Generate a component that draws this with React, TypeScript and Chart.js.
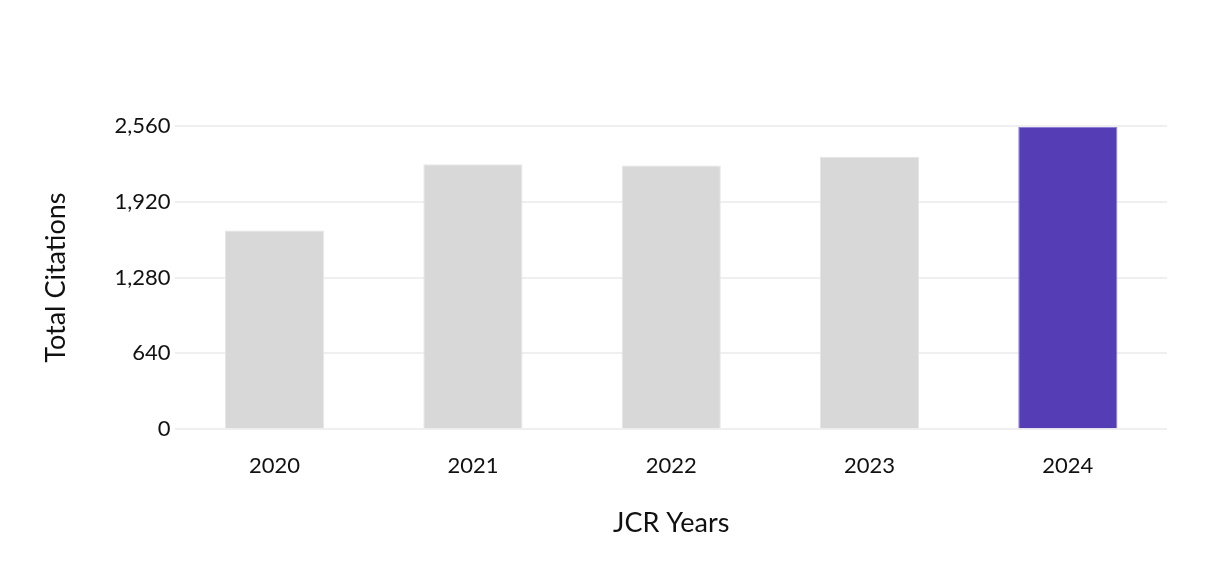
import React, { useEffect, useRef } from "react";
import { Chart, registerables } from "chart.js";

Chart.register(...registerables);

const categories = ["2020", "2021", "2022", "2023", "2024"];
const citations = [1678, 2238, 2227, 2300, 2552];
const barColors = ["#d8d8d8", "#d8d8d8", "#d8d8d8", "#d8d8d8", "#553db6"];
const barBorders = ["#e6e6e6", "#e6e6e6", "#e6e6e6", "#e6e6e6", "#8f7fd6"];
const yTicks = [0, 640, 1280, 1920, 2560];

const FONT = "Lato, 'Noto Sans', sans-serif";

export default function App() {
  const ref = useRef<HTMLCanvasElement | null>(null);

  useEffect(() => {
    document.body.style.margin = "0";
    if (!ref.current) return;
    const chart = new Chart(ref.current, {
      type: "bar",
      data: {
        labels: categories,
        datasets: [
          {
            label: "Total Citations",
            data: citations,
            backgroundColor: barColors,
            borderColor: barBorders,
            borderWidth: 1,
            barPercentage: 0.5,
            categoryPercentage: 1,
          },
        ],
      },
      options: {
        responsive: false,
        animation: false,
        maintainAspectRatio: false,
        layout: { padding: { top: 126, right: 47, left: 40, bottom: 33 } },
        plugins: {
          legend: { display: false },
          tooltip: { enabled: false },
        },
        scales: {
          x: {
            grid: { display: false },
            border: { display: false },
            ticks: {
              color: "#111",
              font: { family: FONT, size: 22 },
              padding: 16,
            },
            title: {
              display: true,
              text: "JCR Years",
              color: "#111",
              font: { family: FONT, size: 27 },
              padding: { top: 11, bottom: 0 },
            },
          },
          y: {
            min: 0,
            max: 2560,
            afterBuildTicks: (axis: any) => {
              axis.ticks = yTicks.map((v) => ({ value: v }));
            },
            grid: { color: "#efefef", lineWidth: 2, drawTicks: false },
            border: { display: false },
            ticks: {
              color: "#111",
              font: { family: FONT, size: 22 },
              padding: 5,
              callback: (v: any) => Number(v).toLocaleString("en-US"),
            },
            title: {
              display: true,
              text: "Total Citations",
              color: "#111",
              font: { family: FONT, size: 27 },
              padding: { top: 0, bottom: 37 },
            },
          },
        },
      },
    });
    return () => chart.destroy();
  }, []);

  return (
    <div style={{ width: 1214, height: 572, background: "#fff" }}>
      <canvas ref={ref} width={1214} height={572} />
    </div>
  );
}
